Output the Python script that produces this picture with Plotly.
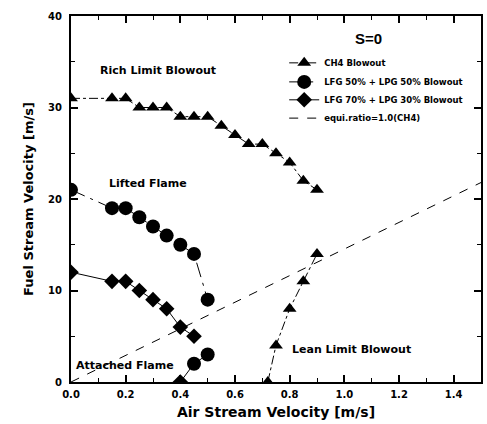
import plotly.graph_objects as go

# CH4 rich-limit blowout
ch4_rich_x = [0, 0.15, 0.2, 0.25, 0.3, 0.35, 0.4, 0.45, 0.5, 0.55, 0.6, 0.65, 0.7, 0.75, 0.8, 0.85, 0.9]
ch4_rich_y = [31, 31, 31, 30, 30, 30, 29, 29, 29, 28, 27, 26, 26, 25, 24, 22, 21]
# CH4 lean-limit blowout
ch4_lean_x = [0.72, 0.75, 0.8, 0.85, 0.9]
ch4_lean_y = [0, 4, 8, 11, 14]
# LFG 50% + LPG 50%
lfg50_rich_x = [0, 0.15, 0.2, 0.25, 0.3, 0.35, 0.4, 0.45, 0.5]
lfg50_rich_y = [21, 19, 19, 18, 17, 16, 15, 14, 9]
lfg50_lean_x = [0.4, 0.45, 0.5]
lfg50_lean_y = [0, 2, 3]
# LFG 70% + LPG 30%
lfg70_rich_x = [0, 0.15, 0.2, 0.25, 0.3, 0.35, 0.4, 0.45]
lfg70_rich_y = [12, 11, 11, 10, 9, 8, 6, 5]
lfg70_lean_x = [0.4]
lfg70_lean_y = [0]
# equivalence ratio = 1.0 (CH4)
equi_x = [0, 1.5]
equi_y = [0, 21.8]

x_ticks = [0.0, 0.2, 0.4, 0.6, 0.8, 1.0, 1.2, 1.4]
x_ticklabels = ["0.0", "0.2", "0.4", "0.6", "0.8", "1.0", "1.2", "1.4"]
y_ticks = [0, 10, 20, 30, 40]

FONT = "DejaVu Sans, Liberation Sans, sans-serif"
FONT2 = "Liberation Sans, Arial, sans-serif"
BLK = "black"

fig = go.Figure()

fig.add_trace(go.Scatter(x=ch4_rich_x, y=ch4_rich_y, mode="lines+markers",
                         name="CH4 Blowout", legend="legend",
                         line=dict(color=BLK, width=1, dash="dashdot"),
                         marker=dict(symbol="triangle-up", size=12, color=BLK)))
fig.add_trace(go.Scatter(x=ch4_lean_x, y=ch4_lean_y, mode="lines+markers",
                         showlegend=False,
                         line=dict(color=BLK, width=1, dash="dashdot"),
                         marker=dict(symbol="triangle-up", size=12, color=BLK)))
fig.add_trace(go.Scatter(x=lfg50_rich_x, y=lfg50_rich_y, mode="lines+markers",
                         name="LFG 50% + LPG 50% Blowout", legend="legend2",
                         line=dict(color=BLK, width=1, dash="longdashdot"),
                         marker=dict(symbol="circle", size=14, color=BLK)))
fig.add_trace(go.Scatter(x=lfg50_lean_x, y=lfg50_lean_y, mode="lines",
                         showlegend=False,
                         line=dict(color=BLK, width=1)))
fig.add_trace(go.Scatter(x=lfg50_lean_x[1:], y=lfg50_lean_y[1:], mode="markers",
                         showlegend=False,
                         marker=dict(symbol="circle", size=14, color=BLK)))
fig.add_trace(go.Scatter(x=lfg70_rich_x, y=lfg70_rich_y, mode="lines+markers",
                         name="LFG 70% + LPG 30% Blowout", legend="legend3",
                         line=dict(color=BLK, width=1),
                         marker=dict(symbol="diamond", size=12, color=BLK)))
fig.add_trace(go.Scatter(x=lfg70_lean_x, y=lfg70_lean_y, mode="markers",
                         showlegend=False,
                         marker=dict(symbol="diamond", size=12, color=BLK)))
fig.add_trace(go.Scatter(x=equi_x, y=equi_y, mode="lines",
                         name="equi.ratio=1.0(CH4)", legend="legend4",
                         line=dict(color=BLK, width=1, dash="dash")))

ann_font = dict(family=FONT, size=11, color=BLK, weight="bold")
for txt, ax, ay, anc in [("Rich Limit Blowout", 0.32, 34.0, "center"),
                         ("Lifted Flame", 0.282, 21.7, "center"),
                         ("Attached Flame", 0.011, 1.76, "left"),
                         ("Lean Limit Blowout", 1.025, 3.6, "center")]:
    fig.add_annotation(x=ax, y=ay, text=txt, showarrow=False, xanchor=anc,
                       yanchor="middle", font=ann_font)
fig.add_annotation(x=1.087, y=37.5, text="S=0", showarrow=False,
                   font=dict(family=FONT2, size=15, color=BLK, weight="bold"))

axis_common = dict(showline=True, linecolor=BLK, linewidth=2, mirror="allticks",
                   ticks="inside", ticklen=7, tickwidth=2, tickcolor=BLK,
                   showgrid=False, zeroline=False, automargin=False,
                   tickfont=dict(family=FONT, size=10, color=BLK, weight="bold"))

fig.update_xaxes(range=[0, 1.5], tickvals=x_ticks, ticktext=x_ticklabels,
                 ticklabelstandoff=2,
                 minor=dict(ticks="inside", ticklen=4, tickwidth=1, tickcolor=BLK, dtick=0.1, tick0=0),
                 title=dict(text="Air Stream Velocity [m/s]", standoff=8,
                            font=dict(family=FONT, size=14, color=BLK, weight="bold")),
                 **axis_common)
fig.update_yaxes(range=[0, 40], tickvals=y_ticks, ticklabelstandoff=5,
                 minor=dict(ticks="inside", ticklen=4, tickwidth=1, tickcolor=BLK, dtick=5, tick0=0),
                 title=dict(text="Fuel Stream Velocity [m/s]", standoff=12,
                            font=dict(family=FONT, size=13, color=BLK, weight="bold")),
                 **axis_common)

leg_font = dict(family=FONT, size=8.5, color=BLK, weight="bold")
leg_common = dict(x=0.52, xanchor="left", yanchor="middle",
                  bgcolor="rgba(0,0,0,0)", font=leg_font)

fig.update_layout(
    width=487, height=424,
    margin=dict(l=71, r=6, t=16, b=42),
    plot_bgcolor="white", paper_bgcolor="white",
    legend=dict(y=0.872, **leg_common),
    legend2=dict(y=0.820, **leg_common),
    legend3=dict(y=0.771, **leg_common),
    legend4=dict(y=0.721, **leg_common),
)

fig.write_html("out.html", config={"displayModeBar": False},
               post_script="document.body.style.margin='0px';")
